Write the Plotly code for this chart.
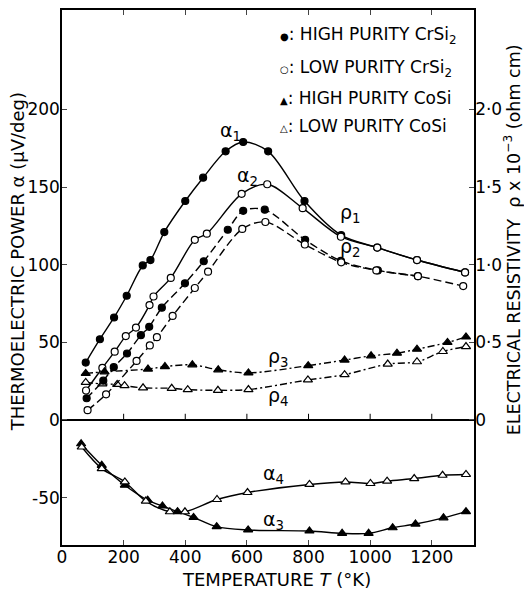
import plotly.graph_objects as go

# ---------------- data (T in K; alpha in uV/deg; rho in 1e-3 ohm cm) ----------------
T_a1 = [77, 123, 169, 210, 262, 287, 332, 400, 458, 531, 588, 669, 787, 906, 1023, 1152, 1308]
a1 = [37, 52, 66, 80, 99.5, 103, 121, 141, 156, 173, 179, 173, 141, 119, 111, 103, 95]

T_a2 = [78, 131, 171, 207, 240, 284, 297, 353, 431, 470, 583, 666, 781, 905, 1023, 1152, 1308]
a2 = [19, 33.5, 44, 54, 59.5, 74, 79.5, 91.5, 116, 120, 145.6, 151.8, 136.4, 118, 111, 103, 95]

T_r1 = [80, 134, 168, 211, 256, 283, 324, 399, 460, 538, 588, 658, 789, 905, 1025, 1155]
r1 = [0.14, 0.253, 0.34, 0.428, 0.546, 0.60, 0.723, 0.88, 1.022, 1.225, 1.347, 1.354, 1.16, 1.025, 0.963, 0.926]

T_r2 = [83, 143, 242, 285, 308, 359, 431, 474, 585, 660, 788, 906, 1020, 1155, 1302]
r2 = [0.063, 0.165, 0.38, 0.48, 0.533, 0.67, 0.85, 0.955, 1.23, 1.275, 1.13, 1.015, 0.963, 0.926, 0.862]

T_r3 = [77, 138, 279, 334, 423, 507, 605, 799, 917, 1003, 1087, 1152, 1251, 1311]
r3 = [0.30, 0.31, 0.328, 0.344, 0.355, 0.323, 0.303, 0.35, 0.386, 0.413, 0.43, 0.456, 0.499, 0.535]

T_r4 = [77, 131, 179, 203, 263, 356, 408, 506, 605, 798, 917, 1057, 1152, 1236, 1311]
r4 = [0.242, 0.232, 0.229, 0.221, 0.207, 0.204, 0.195, 0.191, 0.196, 0.258, 0.292, 0.36, 0.375, 0.441, 0.473]

T_a3 = [62, 129, 204, 278, 326, 375, 427, 502, 604, 803, 909, 995, 1073, 1147, 1238, 1311]
a3 = [-15.3, -29.2, -42, -51.6, -55.4, -59, -62.7, -68.7, -70.8, -71.5, -73, -73, -69.4, -67, -63, -59]

T_a4 = [64, 129, 204, 272, 350, 399, 503, 602, 803, 920, 1001, 1055, 1143, 1235, 1311]
a4 = [-17.4, -31.3, -39.9, -52.2, -59.1, -59.1, -51.2, -46.7, -41.5, -39.9, -40.9, -39.4, -37.7, -35.6, -35.1]

x_ticks = [0, 200, 400, 600, 800, 1000, 1200]
y_ticks = [-50, 0, 50, 100, 150, 200]
y_ticktext = ["-50", "0", "50", "100", "150", "200"]
y2_ticks = [0, 0.5, 1.0, 1.5, 2.0]
y2_ticktext = ["0", "0·5", "1·0", "1·5", "2·0"]

X_RANGE = [0, 1337]
Y_RANGE = [-80.5, 264]
RHO_SCALE = 100.0  # 1e-3 ohm cm -> same vertical scale as alpha

legend_lines = [
    ("●", "HIGH PURITY CrSi<sub>2</sub>"),
    ("○", "LOW PURITY CrSi<sub>2</sub>"),
    ("▲", "HIGH PURITY CoSi"),
    ("△", "LOW PURITY CoSi"),
]

curve_labels = [
    ("α<sub>1</sub>", 548, 186, "y"),
    ("α<sub>2</sub>", 603, 157, "y"),
    ("ρ<sub>1</sub>", 935, 1.33, "y2"),
    ("ρ<sub>2</sub>", 935, 1.11, "y2"),
    ("ρ<sub>3</sub>", 702, 0.40, "y2"),
    ("ρ<sub>4</sub>", 702, 0.15, "y2"),
    ("α<sub>4</sub>", 686, -35, "y"),
    ("α<sub>3</sub>", 686, -65, "y"),
]

FONT = "DejaVu Sans"

fig = go.Figure()


def add(x, y, symbol, filled, dash, yaxis="y", size=7):
    fig.add_trace(go.Scatter(
        x=x, y=y, mode="lines+markers", yaxis=yaxis, showlegend=False,
        line=dict(color="black", width=1.4, dash=dash, shape="spline", smoothing=0.9),
        marker=dict(symbol=symbol, size=size,
                    color="black" if filled else "white",
                    line=dict(color="black", width=1.2)),
    ))


dashdot = "7px,3px,2px,3px"
add(T_r3, r3, "triangle-up", True, dashdot, "y2", 8)
add(T_r4, r4, "triangle-up", False, dashdot, "y2", 8)
add(T_r1, r1, "circle", True, "8px,4px", "y2")
add(T_r2, r2, "circle", False, "8px,4px", "y2")
add(T_a1, a1, "circle", True, "solid")
add(T_a2, a2, "circle", False, "solid")
add(T_a3, a3, "triangle-up", True, "solid", "y", 8)
add(T_a4, a4, "triangle-up", False, "solid", "y", 8)

# small up-pointing ticks on the zero line
shapes = []
for t in x_ticks[1:]:
    shapes.append(dict(type="line", xref="x", yref="y", x0=t, x1=t, y0=0, y1=4,
                       line=dict(color="black", width=1)))

annotations = []
leg_y = [247.5, 226.5, 207.5, 189]
for (sym, txt), yy in zip(legend_lines, leg_y):
    annotations.append(dict(
        x=700, y=yy, xref="x", yref="y", xanchor="left", yanchor="middle",
        text=f"<span style='font-size:10px'>{sym}</span>: {txt}", showarrow=False,
        font=dict(family=FONT, size=17, color="black")))

for txt, xx, yy, yr in curve_labels:
    annotations.append(dict(
        x=xx, y=yy, xref="x", yref=yr, text=txt, showarrow=False,
        font=dict(family=FONT, size=19, color="black")))

# axis titles
annotations.append(dict(
    x=-0.107, y=0.53, xref="paper", yref="paper", textangle=-90,
    xanchor="center", yanchor="middle",
    text="THERMOELECTRIC POWER α (μV/deg)", showarrow=False,
    font=dict(family=FONT, size=18, color="black")))
annotations.append(dict(
    x=1.093, y=0.57, xref="paper", yref="paper", textangle=-90,
    xanchor="center", yanchor="middle",
    text="ELECTRICAL RESISTIVITY  ρ x 10<sup>−3</sup> (ohm cm)", showarrow=False,
    font=dict(family=FONT, size=17.5, color="black")))
annotations.append(dict(
    x=0.52, y=-0.064, xref="paper", yref="paper",
    xanchor="center", yanchor="middle",
    text="TEMPERATURE <i>T</i> (°K)", showarrow=False,
    font=dict(family=FONT, size=18, color="black")))

fig.update_layout(
    width=524, height=589,
    margin=dict(l=62, r=50, t=8, b=44),
    paper_bgcolor="white", plot_bgcolor="white",
    font=dict(family=FONT, size=17, color="black"),
    xaxis=dict(range=X_RANGE, tickvals=x_ticks, ticks="inside", ticklen=5,
               showline=True, linecolor="black", linewidth=1.5, mirror="ticks",
               showgrid=False, zeroline=False, tickfont=dict(size=17),
               ticklabelstandoff=-4),
    yaxis=dict(range=Y_RANGE, tickvals=y_ticks, ticktext=y_ticktext, ticks="inside",
               ticklen=5, showline=True, linecolor="black", linewidth=1.5, mirror=True,
               showgrid=False, zeroline=True, zerolinecolor="black", zerolinewidth=1.5,
               tickfont=dict(size=17), ticklabelstandoff=-3),
    yaxis2=dict(range=[Y_RANGE[0] / RHO_SCALE, Y_RANGE[1] / RHO_SCALE], overlaying="y",
                side="right", tickvals=y2_ticks, ticktext=y2_ticktext, ticks="inside",
                ticklen=5, showline=True, linecolor="black", linewidth=1.5,
                showgrid=False, zeroline=False, tickfont=dict(size=17),
                ticklabelstandoff=-4),
    shapes=shapes,
    annotations=annotations,
)

fig.write_html("out.html")
